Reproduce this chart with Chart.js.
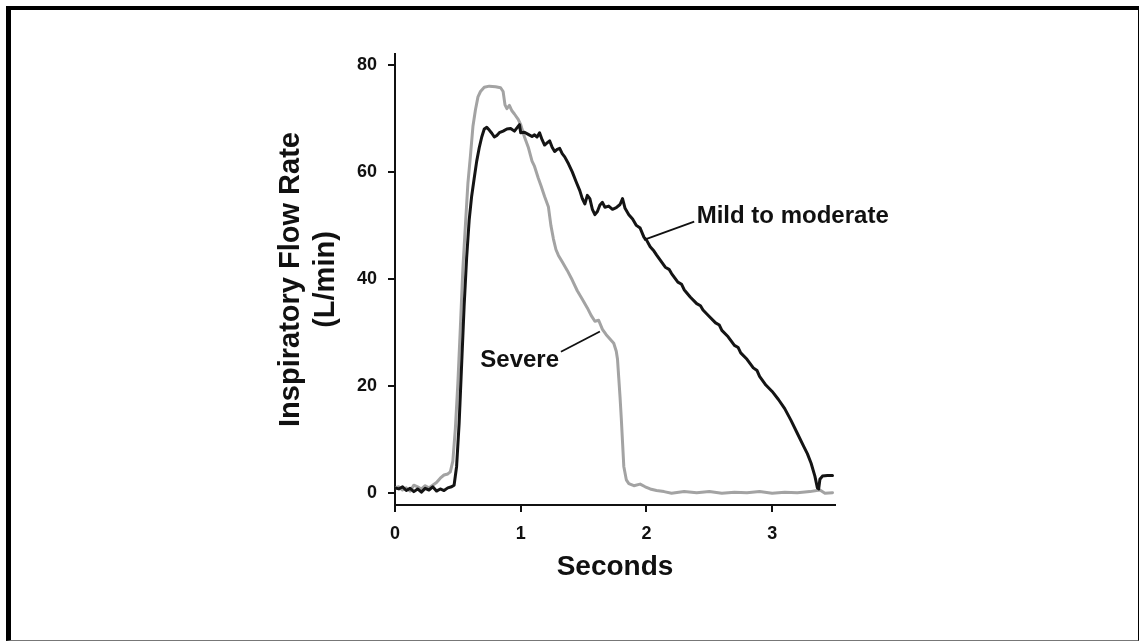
<!DOCTYPE html>
<html><head><meta charset="utf-8">
<script src="https://cdn.jsdelivr.net/npm/chart.js@4.4.1/dist/chart.umd.min.js"></script>
<style>
html,body{margin:0;padding:0;background:#fff;}
#wrap{position:relative;width:1140px;height:642px;}
canvas{display:block;}
#frame{position:absolute;left:6px;top:6px;width:1133px;height:635px;box-sizing:border-box;border-style:solid;border-color:#000 #000 #777 #000;border-width:4px 1px 1px 5px;pointer-events:none;}
</style></head><body>
<div id="wrap"><canvas id="c" width="1140" height="642"></canvas><div id="frame"></div></div>
<script>
// ---- data (seconds, L/min) ----
const seriesNames = ['Mild to moderate', 'Severe'];
const mildTime = [0.00,0.03,0.06,0.09,0.12,0.15,0.18,0.21,0.24,0.27,0.30,0.33,0.36,0.39,0.42,0.45,0.47,0.49,0.51,0.53,0.55,0.57,0.59,0.61,0.63,0.65,0.67,0.69,0.71,0.73,0.75,0.77,0.79,0.81,0.83,0.86,0.89,0.92,0.95,0.97,0.99,1.00,1.03,1.06,1.09,1.11,1.13,1.15,1.17,1.19,1.21,1.23,1.25,1.27,1.29,1.31,1.33,1.35,1.38,1.41,1.44,1.47,1.49,1.51,1.53,1.55,1.57,1.59,1.61,1.63,1.65,1.67,1.70,1.73,1.76,1.79,1.81,1.83,1.86,1.89,1.92,1.95,1.98,2.00,2.03,2.06,2.08,2.11,2.15,2.18,2.20,2.25,2.28,2.30,2.35,2.40,2.43,2.45,2.50,2.55,2.58,2.60,2.65,2.70,2.73,2.75,2.80,2.85,2.88,2.90,2.95,3.00,3.05,3.10,3.15,3.20,3.25,3.28,3.31,3.34,3.36,3.37,3.38,3.40,3.44,3.48];
const mildFlow = [1.0,0.8,1.2,0.5,0.9,0.3,0.8,0.2,0.9,0.6,1.2,0.4,0.8,0.5,1.0,1.2,1.5,5.0,13.0,24.0,35.0,44.0,51.0,55.5,58.8,62.0,64.5,66.5,68.0,68.3,67.8,67.2,66.5,66.8,67.3,67.6,68.0,68.1,67.6,68.2,68.8,67.3,67.4,67.0,66.6,66.9,66.5,67.3,66.0,65.0,65.4,65.8,64.6,63.8,64.2,64.4,63.4,62.8,61.5,60.0,58.2,56.5,55.0,54.0,55.6,55.0,53.0,52.0,52.6,53.8,54.3,53.4,53.6,53.0,53.3,53.9,55.0,53.2,52.0,51.2,50.0,49.5,47.8,47.3,46.0,45.2,44.5,43.5,42.2,41.8,41.0,39.4,39.0,38.0,36.6,35.4,35.0,34.2,33.0,31.8,31.4,30.4,29.2,27.6,27.2,26.2,25.0,23.4,22.9,21.8,20.2,19.0,17.5,15.8,13.6,11.2,8.8,7.4,5.6,3.2,1.0,0.8,2.6,3.2,3.3,3.3];
const severeTime = [0.00,0.03,0.06,0.09,0.12,0.15,0.18,0.21,0.24,0.27,0.30,0.33,0.36,0.39,0.42,0.44,0.46,0.48,0.50,0.52,0.54,0.56,0.58,0.60,0.62,0.64,0.66,0.68,0.71,0.75,0.80,0.84,0.86,0.875,0.89,0.91,0.93,0.95,0.98,1.00,1.03,1.06,1.09,1.11,1.14,1.16,1.19,1.22,1.24,1.26,1.28,1.30,1.33,1.37,1.41,1.45,1.49,1.53,1.56,1.59,1.62,1.65,1.68,1.71,1.74,1.76,1.77,1.78,1.79,1.80,1.81,1.82,1.84,1.86,1.90,1.95,1.99,2.03,2.08,2.14,2.20,2.30,2.40,2.50,2.60,2.70,2.80,2.90,3.00,3.10,3.20,3.30,3.38,3.42,3.48];
const severeFlow = [1.0,1.2,0.6,1.0,0.4,1.5,1.2,0.8,1.4,1.0,1.5,2.0,2.8,3.4,3.6,4.0,6.0,12.0,20.5,31.0,42.0,50.0,57.9,63.0,68.5,71.6,74.0,75.0,75.8,76.0,75.9,75.7,75.0,72.5,71.8,72.4,71.4,70.8,69.8,68.8,66.5,64.6,62.0,61.0,58.8,57.5,55.4,53.5,50.0,47.5,45.5,44.4,43.2,41.6,39.8,37.8,36.2,34.6,33.2,32.1,32.3,30.6,29.6,28.8,28.0,26.5,25.0,21.5,18.0,14.0,9.5,5.0,2.5,1.8,1.4,1.7,1.2,0.8,0.5,0.3,0.0,0.3,0.1,0.3,0.0,0.2,0.1,0.3,0.0,0.2,0.1,0.3,0.6,0.0,0.1];
const xTickValues = [0, 1, 2, 3];
const yTickValues = [0, 20, 40, 60, 80];
const xTitle = 'Seconds';
const yTitle = ['Inspiratory Flow Rate', '(L/min)'];

// label callouts (data units)
const callouts = [
  {text: 'Mild to moderate', tx: 2.40, ty: 50.5, align: 'left', from: [2.38, 50.7], to: [1.98, 47.3]},
  {text: 'Severe', tx: 1.305, ty: 23.6, align: 'right', from: [1.32, 26.4], to: [1.63, 30.2]}
];

const FONT = '"Liberation Sans", Arial, Helvetica, sans-serif';
const zip = (xs, ys) => xs.map((x, i) => ({x, y: ys[i]}));

const calloutPlugin = {
  id: 'callouts',
  afterDatasetsDraw(chart) {
    const {ctx, scales: {x, y}} = chart;
    ctx.save();
    ctx.strokeStyle = '#111';
    ctx.lineWidth = 1.8;
    ctx.fillStyle = '#111';
    ctx.font = 'bold 24px ' + FONT;
    ctx.textBaseline = 'alphabetic';
    callouts.forEach(c => {
      ctx.beginPath();
      ctx.moveTo(x.getPixelForValue(c.from[0]), y.getPixelForValue(c.from[1]));
      ctx.lineTo(x.getPixelForValue(c.to[0]), y.getPixelForValue(c.to[1]));
      ctx.stroke();
      ctx.textAlign = c.align;
      ctx.fillText(c.text, x.getPixelForValue(c.tx), y.getPixelForValue(c.ty));
    });
    ctx.restore();
  }
};

new Chart(document.getElementById('c'), {
  type: 'line',
  data: {
    datasets: [
      {label: seriesNames[1], data: zip(severeTime, severeFlow), borderColor: '#a3a3a3', borderWidth: 3, pointRadius: 0, tension: 0, borderJoinStyle: 'round', borderCapStyle: 'round', order: 2},
      {label: seriesNames[0], data: zip(mildTime, mildFlow), borderColor: '#141414', borderWidth: 3, pointRadius: 0, tension: 0, borderJoinStyle: 'round', borderCapStyle: 'round', order: 1}
    ]
  },
  options: {
    responsive: false,
    animation: false,
    events: [],
    layout: {padding: {left: 0, top: 54, right: 305, bottom: 0}},
    plugins: {legend: {display: false}, tooltip: {enabled: false}},
    scales: {
      x: {
        type: 'linear', position: 'bottom', min: 0, max: 3.5,
        afterBuildTicks: s => { s.ticks = xTickValues.map(v => ({value: v})); },
        afterFit: s => { s.height = 137; },
        ticks: {color: '#111', padding: 11, font: {family: FONT, size: 18, weight: 'bold'}, callback: v => String(v)},
        grid: {drawOnChartArea: false, drawTicks: true, tickLength: 7, color: '#111', lineWidth: 2},
        border: {display: true, color: '#111', width: 2},
        title: {display: true, text: xTitle, color: '#111', font: {family: FONT, size: 28, weight: 'bold'}, padding: {top: 0, bottom: 58}}
      },
      y: {
        type: 'linear', position: 'left', min: -2.2, max: 82,
        afterBuildTicks: s => { s.ticks = yTickValues.map(v => ({value: v})); },
        afterFit: s => { s.width = 395; },
        ticks: {color: '#111', padding: 11, font: {family: FONT, size: 18, weight: 'bold'}, callback: v => String(v)},
        grid: {drawOnChartArea: false, drawTicks: true, tickLength: 7, color: '#111', lineWidth: 2},
        border: {display: true, color: '#111', width: 2},
        title: {display: true, text: yTitle, color: '#111', font: {family: FONT, size: 29, weight: 'bold'}, padding: {top: 274, bottom: 0}}
      }
    }
  },
  plugins: [calloutPlugin]
});
</script>
</body></html>
